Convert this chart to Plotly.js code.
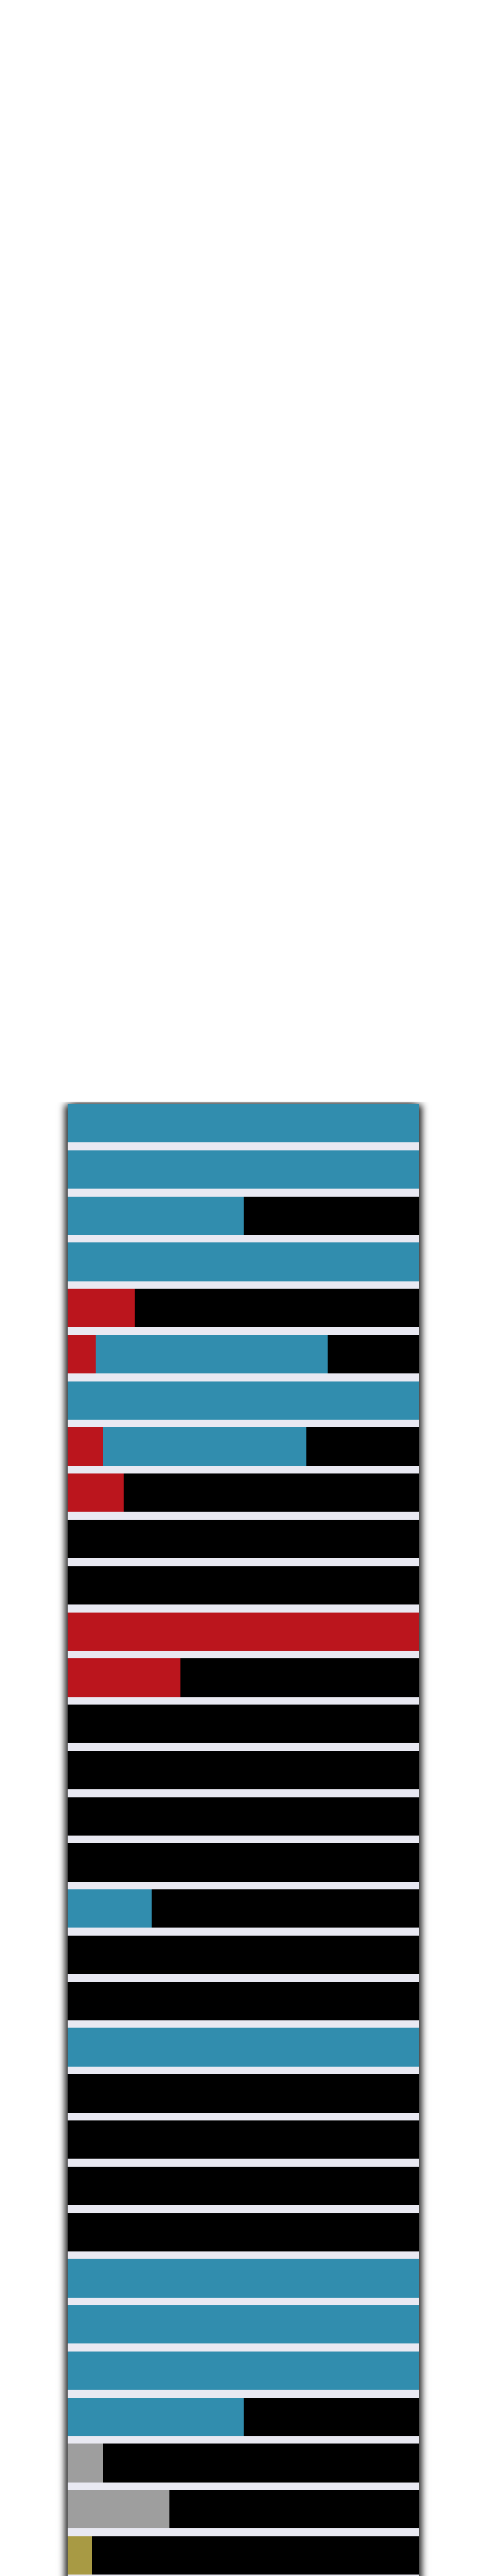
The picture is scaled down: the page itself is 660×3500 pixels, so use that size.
<!DOCTYPE html>
<html>
<head>
<meta charset="utf-8">
<script src="https://cdn.plot.ly/plotly-3.0.1.min.js"></script>
<style>
  html, body { margin: 0; padding: 0; background: #ffffff; }
  #wrap { position: relative; width: 660px; height: 3500px; overflow: hidden; }
  #shadow { position: absolute; left: 92px; top: 1500px; width: 477px; height: 2010px;
            box-shadow: -5px 0 9px -1px rgba(0,0,0,0.85), 5px 0 9px -1px rgba(0,0,0,0.85);
            clip-path: inset(-3px -40px 0 -40px); }
  #chart { position: absolute; left: 0; top: 0; width: 660px; height: 3500px; }
</style>
</head>
<body>
<div id="wrap">
  <div id="shadow"></div>
  <div id="chart"></div>
</div>
<script>
const categories = ["1","2","3","4","5","6","7","8","9","10","11","12","13","14","15","16",
                    "17","18","19","20","21","22","23","24","25","26","27","28","29","30","31","32"];
const redValues   = [0,0,0,0,19,8,0,10,16,0,0,100,32,0,0,0,0,0,0,0,0,0,0,0,0,0,0,0,0,0,0,0];
const blueValues  = [100,100,50,100,0,66,100,58,0,0,0,0,0,0,0,0,0,24,0,0,100,0,0,0,0,100,100,100,50,0,0,0];
const greyValues  = [0,0,0,0,0,0,0,0,0,0,0,0,0,0,0,0,0,0,0,0,0,0,0,0,0,0,0,0,0,10,29,0];
const goldValues  = [0,0,0,0,0,0,0,0,0,0,0,0,0,0,0,0,0,0,0,0,0,0,0,0,0,0,0,0,0,0,0,7];
const blackValues = [0,0,50,0,81,26,0,32,84,100,100,0,68,100,100,100,100,76,100,100,0,100,100,100,100,0,0,0,50,90,71,93];

const seriesNames  = ["red","blue","grey","gold","black"];
const seriesValues = [redValues, blueValues, greyValues, goldValues, blackValues];
const seriesColors = ["#bb151d","#318dae","#9e9e9e","#a89a44","#000000"];

const traces = seriesValues.map((vals, i) => ({
  type: "bar",
  orientation: "h",
  name: seriesNames[i],
  y: categories,
  x: vals,
  marker: { color: seriesColors[i], line: { width: 0 } },
  hoverinfo: "none"
}));

const layout = {
  width: 660,
  height: 3500,
  margin: { l: 92, r: 91, t: 1500, b: 0, pad: 0 },
  paper_bgcolor: "rgba(0,0,0,0)",
  plot_bgcolor: "#e9e9f2",
  barmode: "stack",
  bargap: 0.167,
  showlegend: false,
  xaxis: { range: [0, 100], visible: false, showgrid: false, zeroline: false, fixedrange: true },
  yaxis: { type: "category", categoryorder: "array", categoryarray: categories,
           range: [31.445, -0.4167], showticklabels: false, showgrid: false,
           zeroline: false, ticks: "", showline: false, fixedrange: true }
};

Plotly.newPlot("chart", traces, layout, { displayModeBar: false, staticPlot: true });
</script>
</body>
</html>
